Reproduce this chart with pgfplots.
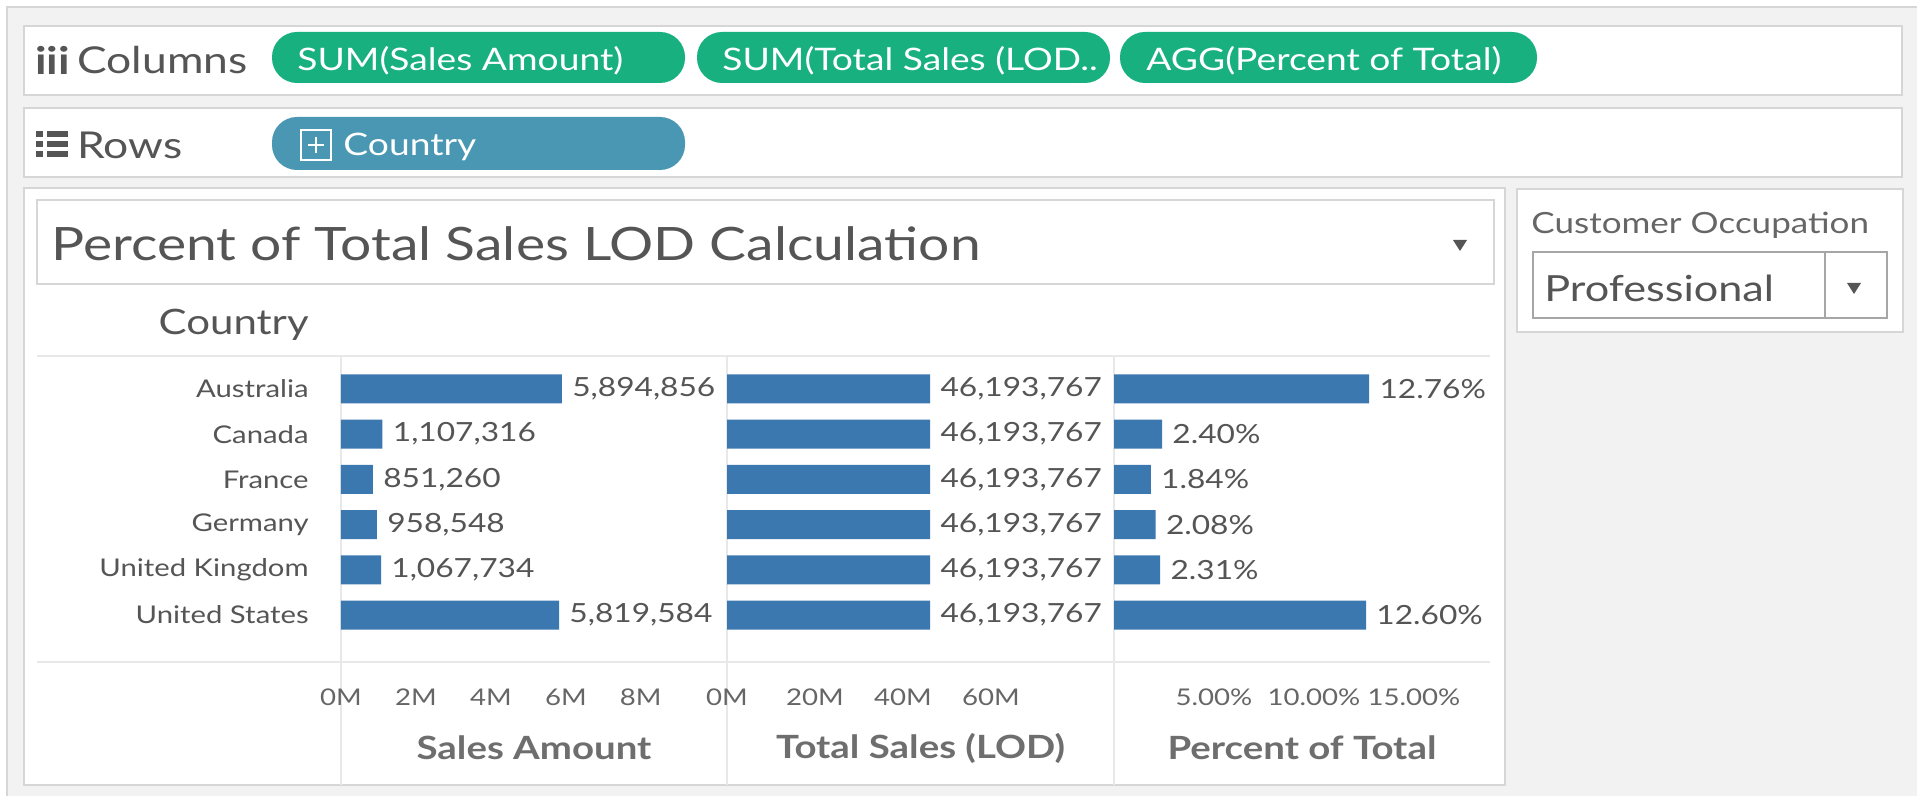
\documentclass[border=0pt]{standalone}
\usepackage{fontspec}
\setmainfont{Lato}[FakeStretch=1.2]
\usepackage{pgfplots}
\usepackage{pgfplotstable}
\pgfplotsset{compat=1.18}

\definecolor{bg}{HTML}{F2F2F2}
\definecolor{frame}{HTML}{D6D6D6}
\definecolor{barc}{HTML}{3C78B0}
\definecolor{pillg}{HTML}{17B07E}
\definecolor{pillb}{HTML}{4A97B3}
\definecolor{txt}{HTML}{555555}
\definecolor{txtl}{HTML}{666666}
\definecolor{txta}{HTML}{6E6E6E}
\definecolor{sep}{HTML}{E8E8E8}

\newcommand{\fs}[1]{\fontsize{#1}{#1}\selectfont}

\pgfplotstableread{
r sales saleslab total totallab pct pctlab
0 5894856 5,894,856 46193767 46,193,767 12.76 12.76
1 1107316 1,107,316 46193767 46,193,767 2.40 2.40
2 851260 851,260 46193767 46,193,767 1.84 1.84
3 958548 958,548 46193767 46,193,767 2.08 2.08
4 1067734 1,067,734 46193767 46,193,767 2.31 2.31
5 5819584 5,819,584 46193767 46,193,767 12.60 12.60
}\datatable

\pgfplotsset{
  pane/.style={
    anchor=north west, scale only axis, height=153pt,
    ymin=-0.73, ymax=6.04, y dir=reverse,
    axis line style={draw=none}, major tick length=0pt,
    xbar, bar width=14.5pt, clip=false,
    ytick={0,...,5}, scaled x ticks=false,
    xticklabel style={font=\fs{11.5}, text=txtl, anchor=center, yshift=-17.5pt},
    xlabel style={at={(axis description cs:0.5,0)}, anchor=center, yshift=-43pt,
                  font=\fs{16}\bfseries, text=txta},
  },
  barplot/.style={fill=barc, draw=none, point meta=explicit symbolic,
      nodes near coords, nodes near coords style={font=\fs{13.2}, text=txt, anchor=west, inner sep=2pt, xshift=3pt}},
}

\begin{document}
\begin{tikzpicture}
\begin{scope}[x=0.5pt,y=-0.5pt]
\useasboundingbox (0,0) rectangle (1917,796);
\fill[white] (0,0) rectangle (1917,796);
\fill[bg] (7,7) rectangle (1917,796);
\draw[frame, line width=0.75pt] (7,796)--(7,7)--(1917,7);
% shelves
\filldraw[fill=white, draw=frame, line width=1pt] (24,26) rectangle (1902,95);
\filldraw[fill=white, draw=frame, line width=1pt] (24,108) rectangle (1902,177);
\node[anchor=west, text=txt, inner sep=0pt] at (35,60) {\fs{19}\bfseries iii};
\node[anchor=west, text=txt, inner sep=0pt] at (77,60) {\fs{18.5}Columns};
\fill[pillg, rounded corners=12.5pt] (272,32) rectangle (685,83);
\fill[pillg, rounded corners=12.5pt] (697,32) rectangle (1110,83);
\fill[pillg, rounded corners=12.5pt] (1120,32) rectangle (1537,83);
\node[anchor=west, text=white, inner sep=0pt] at (297,61) {\fs{15.5}SUM(Sales Amount)};
\node[anchor=west, text=white, inner sep=0pt] at (722,61) {\fs{15.5}SUM(Total Sales (LOD..};
\node[anchor=west, text=white, inner sep=0pt] at (1146,61) {\fs{15.5}AGG(Percent of Total)};
% rows icon
\foreach \yy in {134,144,154} {
  \fill[txt] (36,\yy-3) rectangle (43,\yy+3);
  \fill[txt] (47,\yy-3) rectangle (68,\yy+3);
}
\node[anchor=west, text=txt, inner sep=0pt] at (77,145) {\fs{18.5}Rows};
\fill[pillb, rounded corners=12.5pt] (272,117) rectangle (685,170);
\draw[white, line width=0.6pt] (301,130) rectangle (331,160);
\draw[white, line width=0.8pt] (308,145)--(324,145) (316,137)--(316,153);
\node[anchor=west, text=white, inner sep=0pt] at (343,147) {\fs{15.5}Country};
% main panel
\filldraw[fill=white, draw=frame, line width=1pt] (24,188) rectangle (1505,785);
\filldraw[fill=white, draw=frame, line width=1pt] (37,200) rectangle (1494,284);
\node[anchor=west, text=txt, inner sep=0pt] at (51,244) {\fs{23}Percent of Total Sales LOD Calculation};
\fill[txt] (1453,240)--(1467,240)--(1460,251)--cycle;
% filter panel
\filldraw[fill=white, draw=frame, line width=1pt] (1517,189) rectangle (1903,332);
\node[anchor=west, text=txtl, inner sep=0pt] at (1531,225) {\fs{14.6}Customer Occupation};
\filldraw[fill=white, draw=gray!70, line width=0.75pt] (1533,252) rectangle (1887,318);
\draw[gray!70, line width=0.75pt] (1825,252)--(1825,318);
\node[anchor=west, text=txt, inner sep=0pt] at (1544,288) {\fs{18}Professional};
\fill[txt] (1847,283)--(1861,283)--(1854,294)--cycle;
% header
\node[anchor=east, text=txt, inner sep=0pt] at (309,325) {\fs{17.5}Country};
% separators
\draw[sep, line width=1.2pt] (37,356)--(1490,356);
\draw[sep, line width=1.2pt] (37,662)--(1490,662);
\foreach \xx in {341,727,1114} \draw[sep, line width=0.6pt] (\xx,356)--(\xx,785);
\end{scope}

\begin{axis}[pane, at={(170.5pt,-178pt)}, width=193pt,
  xmin=0, xmax=10300000,
  yticklabels={Australia,Canada,France,Germany,United Kingdom,United States},
  yticklabel style={font=\fs{12.2}, text=txt, anchor=east, inner sep=0pt, xshift=-16pt},
  xtick={0,2000000,4000000,6000000,8000000}, xticklabels={0M,2M,4M,6M,8M},
  xlabel={Sales Amount}]
\addplot[barplot] table[x=sales, y=r, meta=saleslab] {\datatable};
\end{axis}

\begin{axis}[pane, at={(363.5pt,-178pt)}, width=193.5pt,
  xmin=0, xmax=88000000, yticklabels={},
  xtick={0,20000000,40000000,60000000}, xticklabels={0M,20M,40M,60M},
  xlabel={Total Sales (LOD)}]
\addplot[barplot] table[x=total, y=r, meta=totallab] {\datatable};
\end{axis}

\begin{axis}[pane, at={(557pt,-178pt)}, width=188pt,
  xmin=0, xmax=18.8, yticklabels={},
  xtick={5,10,15}, xticklabels={5.00\%,10.00\%,15.00\%},
  xlabel={Percent of Total}]
\addplot[barplot, nodes near coords={\pgfplotspointmeta\%}] table[x=pct, y=r, meta=pctlab] {\datatable};
\end{axis}
\end{tikzpicture}
\end{document}
